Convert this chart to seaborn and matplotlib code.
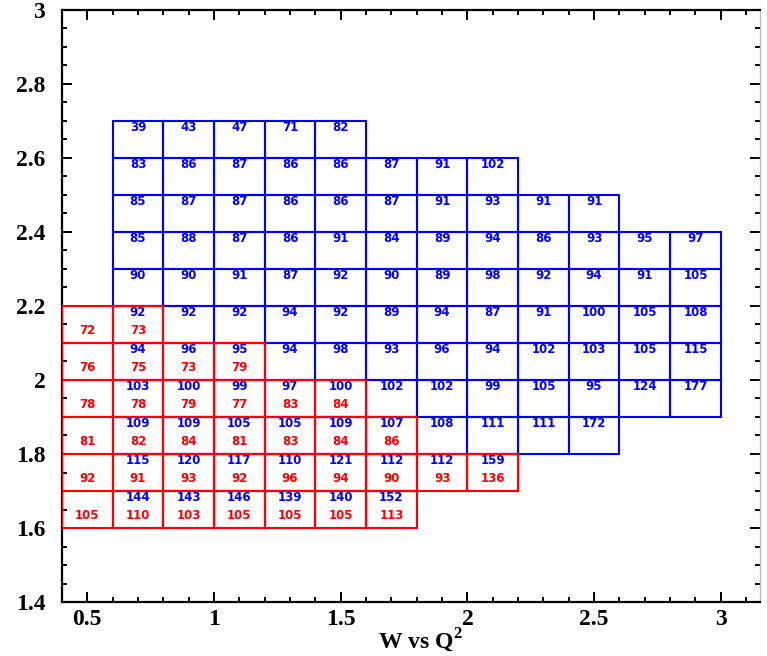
import numpy as np
import pandas as pd
import matplotlib
matplotlib.use("Agg")
import matplotlib.pyplot as plt
import seaborn as sns
from matplotlib.ticker import MultipleLocator

sns.set_theme(style="ticks")
plt.rcParams['font.family'] = ['Liberation Serif', 'DejaVu Serif']
plt.rcParams['mathtext.fontset'] = 'custom'
plt.rcParams['mathtext.rm'] = 'Liberation Serif'
plt.rcParams['mathtext.bf'] = 'Liberation Serif:bold'
for k in ['text.color', 'axes.labelcolor', 'xtick.color', 'ytick.color']:
    plt.rcParams[k] = 'black'

# Bin widths
DX = 0.2
DY = 0.1

# Blue set: lower y edge of each row, first x edge, values per bin
blue_y = [2.6, 2.5, 2.4, 2.3, 2.2, 2.1, 2.0, 1.9, 1.8, 1.7, 1.6]
blue_x0 = [0.6] * 11
blue_vals = [
    [39, 43, 47, 71, 82],
    [83, 86, 87, 86, 86, 87, 91, 102],
    [85, 87, 87, 86, 86, 87, 91, 93, 91, 91],
    [85, 88, 87, 86, 91, 84, 89, 94, 86, 93, 95, 97],
    [90, 90, 91, 87, 92, 90, 89, 98, 92, 94, 91, 105],
    [92, 92, 92, 94, 92, 89, 94, 87, 91, 100, 105, 108],
    [94, 96, 95, 94, 98, 93, 96, 94, 102, 103, 105, 115],
    [103, 100, 99, 97, 100, 102, 102, 99, 105, 95, 124, 177],
    [109, 109, 105, 105, 109, 107, 108, 111, 111, 172],
    [115, 120, 117, 110, 121, 112, 112, 159],
    [144, 143, 146, 139, 140, 152],
]

# Red set
red_y = [2.1, 2.0, 1.9, 1.8, 1.7, 1.6]
red_x0 = [0.4] * 6
red_vals = [
    [72, 73],
    [76, 75, 73, 79],
    [78, 78, 79, 77, 83, 84],
    [81, 82, 84, 81, 83, 84, 86],
    [92, 91, 93, 92, 96, 94, 90, 93, 136],
    [105, 110, 103, 105, 105, 105, 113],
]


def to_table(ys, x0s, vals):
    recs = []
    for y, x0, row in zip(ys, x0s, vals):
        for i, v in enumerate(row):
            recs.append({'x': x0 + DX * (i + 0.5), 'y': y, 'val': v})
    return pd.DataFrame(recs)


blue = to_table(blue_y, blue_x0, blue_vals)
red = to_table(red_y, red_x0, red_vals)

fig = plt.figure(figsize=(7.67, 6.56), dpi=100)
ax = fig.add_axes([0.0808, 0.0823, 0.991 - 0.0808, 0.9848 - 0.0823])

ax.bar(blue['x'], DY, width=DX, bottom=blue['y'], fill=False,
       edgecolor='#0000ff', linewidth=1.5, zorder=2)
ax.bar(red['x'], DY, width=DX, bottom=red['y'], fill=False,
       edgecolor='#ff0000', linewidth=1.5, zorder=3)

for _, r in blue.iterrows():
    ax.text(r['x'], r['y'] + DY - 0.018, f"{r['val']:.0f}", color='#0000ff',
            ha='center', va='center', fontsize=8.5, fontweight='bold',
            family='DejaVu Sans', zorder=4)
for _, r in red.iterrows():
    ax.text(r['x'], r['y'] + 0.033, f"{r['val']:.0f}", color='#ff0000',
            ha='center', va='center', fontsize=8.5, fontweight='bold',
            family='DejaVu Sans', zorder=4)

ax.set_xlim(0.4, 3.155)
ax.set_ylim(1.4, 3.0)
ax.xaxis.set_minor_locator(MultipleLocator(0.1))
ax.yaxis.set_minor_locator(MultipleLocator(0.05))
ax.set_xticks([0.5, 1, 1.5, 2, 2.5, 3])
ax.set_xticklabels(['0.5', '1', '1.5', '2', '2.5', '3'])
ax.set_yticks([1.4, 1.6, 1.8, 2.0, 2.2, 2.4, 2.6, 2.8, 3.0])
ax.set_yticklabels(['1.4', '1.6', '1.8', '2', '2.2', '2.4', '2.6', '2.8', '3'])

ax.tick_params(which='both', direction='in', top=True, right=True,
               width=1.4, colors='black')
ax.tick_params(which='major', length=7.5, labelsize=17)
ax.tick_params(axis='y', which='major', pad=12)
ax.tick_params(axis='x', which='major', pad=5)
ax.tick_params(which='minor', length=3.6)
for lab in ax.get_xticklabels() + ax.get_yticklabels():
    lab.set_fontweight('bold')

for side in ['left', 'bottom', 'top']:
    ax.spines[side].set_linewidth(1.6)
    ax.spines[side].set_color('black')
ax.spines['right'].set_linewidth(1.0)
ax.spines['right'].set_color('#bbbbbb')

ax.set_xlabel(r'W vs Q$^{\mathbf{2}}$', fontsize=17, fontweight='bold')
ax.xaxis.set_label_coords(0.514, -0.042)
ax.grid(False)

fig.savefig('out.png', dpi=100)
